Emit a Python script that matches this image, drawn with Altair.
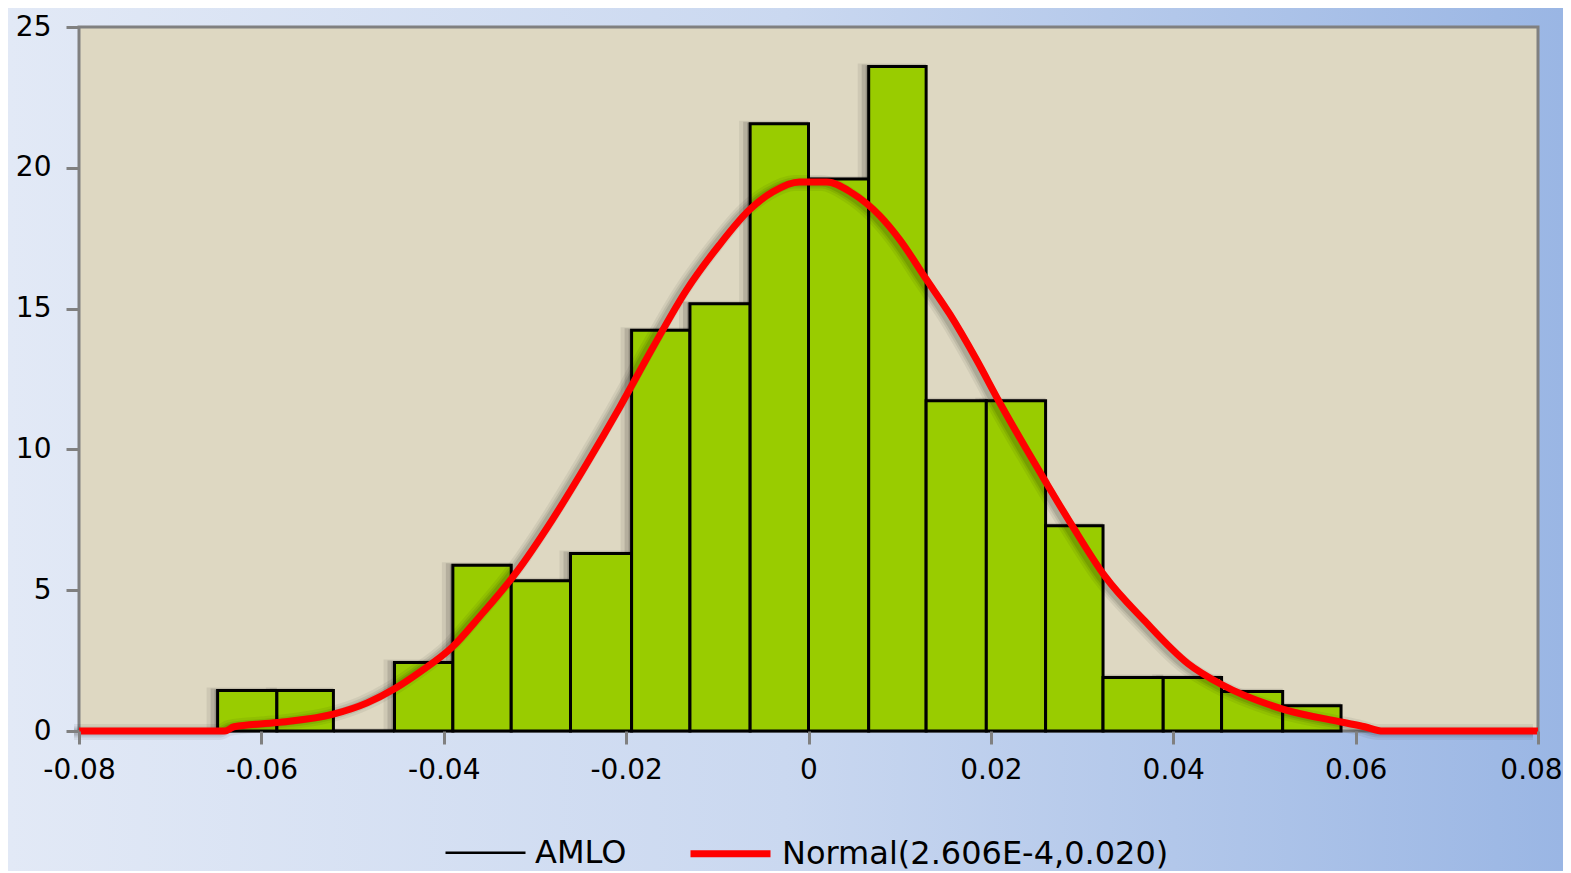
import altair as alt
import pandas as pd

# ---------------- data ----------------
bin_edges = [-0.0648, -0.0583, -0.0521, -0.0454, -0.0390, -0.0326, -0.0261,
             -0.0194, -0.0130, -0.0064, 0.0000, 0.0066, 0.0129, 0.0195,
             0.0260, 0.0323, 0.0389, 0.0453, 0.0520, 0.0584]
densities = [1.44, 1.44, 0.0, 2.43, 5.89, 5.34, 6.30, 14.23, 15.17, 21.56,
             19.60, 23.60, 11.73, 11.73, 7.29, 1.90, 1.90, 1.40, 0.90]

curve_x = [-0.0800, -0.0640, -0.0630, -0.0583, -0.0521, -0.0484, -0.0454,
           -0.0426, -0.0390, -0.0361, -0.0320, -0.0281, -0.0243, -0.0207,
           -0.0171, -0.0134, -0.0098, -0.0065, -0.0039, -0.0010, 0.0020,
           0.0048, 0.0078, 0.0100, 0.0129, 0.0155, 0.0184, 0.0209, 0.0261,
           0.0289, 0.0325, 0.0369, 0.0416, 0.0453, 0.0521, 0.0584, 0.0610,
           0.0630, 0.0800]
curve_y = [0.0, 0.0, 0.15, 0.30, 0.60, 1.00, 1.50, 2.10, 3.00, 4.05, 5.65,
           7.50, 9.50, 11.50, 13.60, 15.65, 17.25, 18.50, 19.15, 19.50, 19.50,
           19.10, 18.30, 17.45, 16.05, 14.80, 13.20, 11.70, 8.80, 7.30, 5.50,
           3.90, 2.40, 1.65, 0.77, 0.32, 0.15, 0.0, 0.0]

x_ticks = [-0.08, -0.06, -0.04, -0.02, 0.0, 0.02, 0.04, 0.06, 0.08]
y_ticks = [0, 5, 10, 15, 20, 25]
series_names = ["AMLO", "Normal(2.606E-4,0.020)"]

# ---------------- layout ----------------
W, H = 1459, 704
PL, PT, PR, PB = 71, 19, 25, 140
FONT = "DejaVu Sans"

bars = pd.DataFrame({"x0": bin_edges[:-1], "x1": bin_edges[1:], "h": densities})
curve = pd.DataFrame({"x": curve_x, "y": curve_y, "series": series_names[1]})

xscale = alt.Scale(domain=[-0.08, 0.08], nice=False, zero=False)
yscale = alt.Scale(domain=[0, 25], nice=False, zero=True)

xaxis = alt.Axis(values=x_ticks, title=None, domain=False, grid=False, zindex=1,
                 tickColor="#808080", tickWidth=3, tickSize=13,
                 labelFont=FONT, labelFontSize=28, labelColor="black",
                 labelPadding=12, labelFlush=False, labelOverlap=False,
                 labelOffset={"condition": {"test": "datum.value > 0.07", "value": -7}, "value": 0},
                 labelExpr="datum.value == 0 ? '0' : (datum.value < 0 ? '-' : '') + format(abs(datum.value), '.2f')")
yaxis = alt.Axis(values=y_ticks, title=None, domain=False, grid=False, zindex=1,
                 tickColor="#808080", tickWidth=3, tickSize=13,
                 labelFont=FONT, labelFontSize=28, labelColor="black",
                 labelPadding=15, labelFlush=False, labelOverlap=False,
                 format="d")

one = alt.Data(values=[{"k": 1}])

gradient = alt.LinearGradient(
    gradient="linear",
    stops=[alt.GradientStop(color="#E2E9F6", offset=0),
           alt.GradientStop(color="#CAD8F0", offset=0.5),
           alt.GradientStop(color="#9AB6E4", offset=1)],
    x1=0, x2=1, y1=0, y2=0)

page_bg = alt.Chart(one).mark_rect(fill=gradient, strokeWidth=0).encode(
    x=alt.value(-PL), x2=alt.value(W + PR), y=alt.value(-PT), y2=alt.value(H + PB))

plot_bg = alt.Chart(one).mark_rect(fill="#DED8C2", stroke="#808080", strokeWidth=3).encode(
    x=alt.value(0), x2=alt.value(W), y=alt.value(0), y2=alt.value(H))


def bar_layer(**mark):
    return alt.Chart(bars).mark_rect(**mark).encode(
        x=alt.X("x0:Q", scale=xscale, axis=xaxis),
        x2="x1:Q",
        y=alt.Y("h:Q", scale=yscale, axis=yaxis),
        y2=alt.datum(0),
    )


shadows = [
    bar_layer(color="black", opacity=0.07, xOffset=-11, yOffset=-3, strokeWidth=0),
    bar_layer(color="black", opacity=0.12, xOffset=-7, yOffset=-2, strokeWidth=0),
    bar_layer(color="black", opacity=0.18, xOffset=-3, yOffset=-1, strokeWidth=0),
]
main_bars = bar_layer(fill="#99CC00", stroke="black", strokeWidth=3)


def curve_shadow(width, op):
    return alt.Chart(curve).mark_line(
        color="black", opacity=op, strokeWidth=width, xOffset=-5, yOffset=1,
        interpolate="monotone").encode(
        x=alt.X("x:Q", scale=xscale, axis=xaxis),
        y=alt.Y("y:Q", scale=yscale, axis=yaxis),
    )


leg = alt.Legend(orient="none", legendX=365, legendY=783, direction="horizontal",
                 title=None, symbolType="stroke", symbolSize=6400, zindex=1,
                 labelFont=FONT, labelFontSize=32, labelColor="black", labelLimit=0,
                 columnPadding=49, labelOffset=8, padding=0)

main_curve = alt.Chart(curve).mark_line(interpolate="monotone").encode(
    x=alt.X("x:Q", scale=xscale, axis=xaxis),
    y=alt.Y("y:Q", scale=yscale, axis=yaxis),
    color=alt.Color("series:N", scale=alt.Scale(domain=series_names, range=["black", "red"]), legend=leg),
    strokeWidth=alt.StrokeWidth("series:N", scale=alt.Scale(domain=series_names, range=[2.5, 7]), legend=leg),
)

chart = alt.layer(
    page_bg, plot_bg, *shadows, main_bars,
    curve_shadow(16, 0.06), curve_shadow(11, 0.08), curve_shadow(7, 0.10),
    main_curve,
).properties(
    width=W, height=H,
    autosize=alt.AutoSizeParams(type="none"),
    padding={"left": PL, "top": PT, "right": PR, "bottom": PB},
).configure_view(stroke=None).configure(background="#CAD8F0")

chart.save("out.html", embed_options={"renderer": "svg", "actions": False})
